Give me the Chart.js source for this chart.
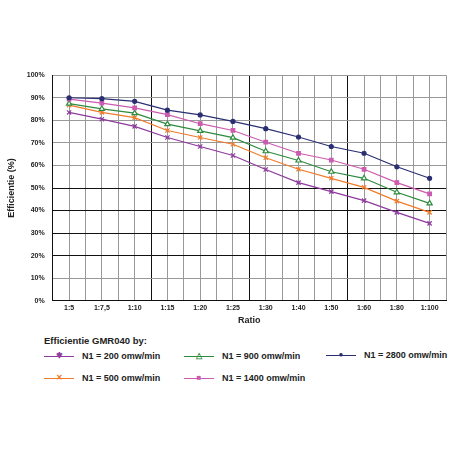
<!DOCTYPE html><html><head><script src="https://cdn.jsdelivr.net/npm/chart.js@4"></script>
<style>body{margin:0;background:#fff;font-family:"Liberation Sans",Arial,sans-serif;font-weight:bold}
#w{position:absolute;left:2px;top:63px;width:450px;height:267px}
#lg{position:absolute;left:44px;top:333px;font-size:9px;color:#222}
.it{position:absolute;white-space:nowrap;display:flex;align-items:center;height:14px}
.ln{position:relative;width:30px;height:14px;margin-right:8px}
.ln i{position:absolute;left:0;right:0;top:7px;border-top:1.5px solid}
.ln b{position:absolute;left:0;right:0;top:0;height:14px;line-height:14px;text-align:center;font-size:8px;font-style:normal}
</style></head><body>
<div id="w"><canvas id="c"></canvas></div>
<div id="lg"></div>
<script>
const categories=["1:5","1:7,5","1:10","1:15","1:20","1:25","1:30","1:40","1:50","1:60","1:80","1:100"];
const yTicks=["0%","10%","20%","30%","40%","50%","60%","70%","80%","90%","100%"];
const n200=[83.5,80.5,77.3,72.4,68.4,64.4,58.2,52.4,48.4,44.4,39.2,34.3];
const n500=[86.7,83.5,81.2,75.5,72.4,69.4,63.4,58.3,54.3,50.3,44.2,39.2];
const n900=[87.4,85.1,83.2,78.3,75.3,72.3,66.3,62.2,57.2,54.3,48.1,43.2];
const n1400=[89.4,87.6,85.5,82.5,78.5,75.5,70.3,65.4,62.4,58.3,52.4,47.4];
const n2800=[90,89.6,88.4,84.5,82.4,79.5,76.3,72.6,68.4,65.4,59.4,54.3];
const names=["N1 = 200 omw/min","N1 = 500 omw/min","N1 = 900 omw/min","N1 = 1400 omw/min","N1 = 2800 omw/min"];
const cols=["#8e3a9e","#f07c2a","#2e8b3e","#cc5bb0","#2a2f72"];
const pts=["crossRot","crossRot","triangle","rect","circle"];
const rads=[3,3,3,2.5,2];
const fills=[cols[0],cols[1],"#fff",cols[3],cols[4]];
const series=[n200,n500,n900,n1400,n2800];
const ds=series.map((s,k)=>({label:names[k],data:s.map((v,i)=>({x:i,y:v})),borderColor:cols[k],backgroundColor:fills[k],pointBorderColor:cols[k],pointStyle:pts[k],pointRadius:rads[k],borderWidth:1.2,pointBorderWidth:1.2})).reverse();
new Chart(document.getElementById('c'),{type:'line',data:{datasets:ds},options:{animation:false,responsive:true,maintainAspectRatio:false,
layout:{padding:{right:6,top:0}},
plugins:{legend:{display:false},tooltip:{enabled:false}},
scales:{x:{type:'linear',min:-0.5,max:11.5,afterBuildTicks:a=>{a.ticks=[];for(let v=-0.5;v<=11.5;v+=0.5)a.ticks.push({value:v});},
 ticks:{autoSkip:false,maxRotation:0,font:{size:7,weight:'bold'},color:'#222',callback:v=>Number.isInteger(v)?categories[v]:''},
 grid:{color:c=>{const v=c.tick&&c.tick.value;return [2.5,5.5,8.5].includes(v)?'#111':'#999';},lineWidth:1,drawTicks:false},border:{color:'#111'},
 title:{display:true,text:'Ratio',font:{size:9,weight:'bold'},color:'#222',padding:{top:0}}},
y:{min:0,max:100,ticks:{stepSize:10,padding:8,font:{size:7,weight:'bold'},color:'#222',callback:(v,i)=>yTicks[i]},
 grid:{color:c=>{const v=c.tick&&c.tick.value;return (v>=20&&v<=50)?'#111':'#999';},lineWidth:1,drawTicks:false},border:{color:'#111'},
 title:{display:true,text:'Efficientie (%)',font:{size:9,weight:'bold'},color:'#222',padding:{bottom:2}}}}}});
const lg=document.getElementById('lg');
const pos=[[0,16],[0,38],[140,16],[140,38],[282,15]];
let h='<div class="it" style="left:0;top:0;font-size:9.5px">Efficientie GMR040 by:</div>';
const sym=["&#10033;","&#10005;","&#9651;","&#9632;","&#9679;"];
for(let k=0;k<5;k++){h+=`<div class="it" style="left:${pos[k][0]}px;top:${pos[k][1]}px"><span class="ln"><i style="border-color:${cols[k]}"></i><b style="color:${cols[k]}">${sym[k]}</b></span>${names[k]}</div>`;}
lg.innerHTML=h;
</script></body></html>
